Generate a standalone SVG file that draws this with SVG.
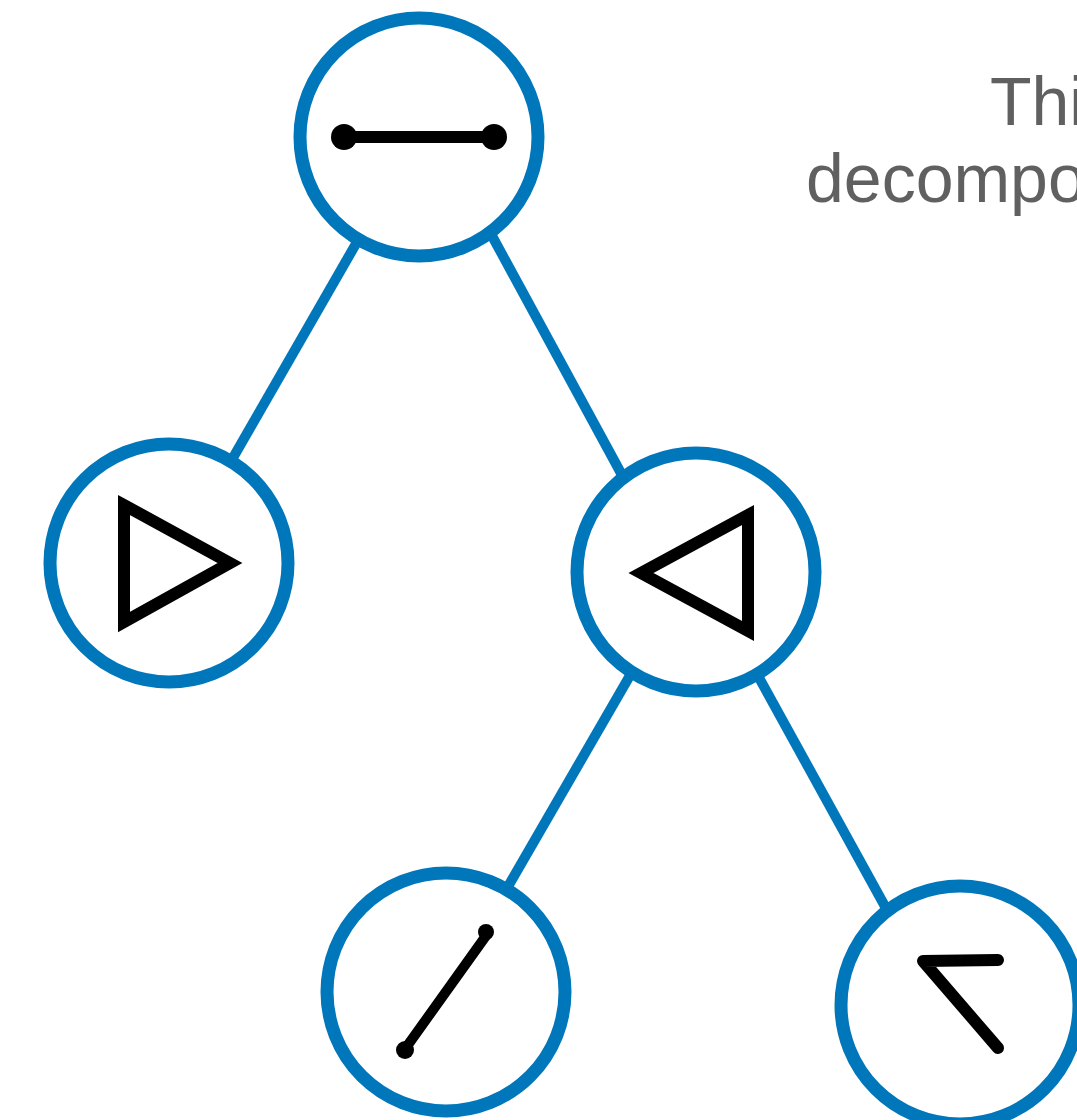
<svg xmlns="http://www.w3.org/2000/svg" width="1077" height="1120" viewBox="0 0 1077 1120">
  <style>
    .node { fill: #ffffff; stroke: #0077bb; stroke-width: 13; }
    .edge { stroke: #0077bb; stroke-width: 10; fill: none; }
    .glyph { fill: none; stroke: #000000; stroke-width: 12; }
    .dot { fill: #000000; }
    .label { font-family: "Liberation Sans", Arial, sans-serif; font-size: 68px; fill: #606060; }
  </style>
  <rect x="0" y="0" width="1077" height="1120" fill="#ffffff"/>
  <g id="connectors">
    <line class="edge" x1="357" y1="242" x2="230" y2="463"/>
    <line class="edge" x1="491" y1="234" x2="622" y2="475"/>
    <line class="edge" x1="632" y1="672" x2="506" y2="890"/>
    <line class="edge" x1="757" y1="674" x2="887" y2="910"/>
  </g>
  <g id="node-root">
    <circle class="node" cx="419" cy="137" r="119"/>
    <line x1="344" y1="137" x2="494" y2="137" stroke="#000" stroke-width="12"/>
    <circle class="dot" cx="344" cy="137" r="13"/>
    <circle class="dot" cx="494" cy="137" r="13"/>
  </g>
  <g id="node-left">
    <circle class="node" cx="169" cy="563" r="119"/>
    <polygon class="glyph" points="124,505 230,563 124,622"/>
  </g>
  <g id="node-mid">
    <circle class="node" cx="696" cy="572" r="119"/>
    <polygon class="glyph" points="748,515 641,573 748,631"/>
  </g>
  <g id="node-bottom-left">
    <circle class="node" cx="446" cy="992" r="119"/>
    <line x1="405" y1="1049" x2="488" y2="933" stroke="#000" stroke-width="10" stroke-linecap="round"/>
    <circle class="dot" cx="405" cy="1050" r="9"/>
    <circle class="dot" cx="486" cy="932" r="8"/>
  </g>
  <g id="node-bottom-right">
    <circle class="node" cx="960" cy="1005" r="119"/>
    <polyline points="998,960 923,961 998,1048" fill="none" stroke="#000" stroke-width="12" stroke-linecap="round" stroke-linejoin="round"/>
  </g>
  <g id="caption">
    <text class="label" x="990" y="125">Thi</text>
    <text class="label" x="806" y="202">decompo</text>
  </g>
</svg>
